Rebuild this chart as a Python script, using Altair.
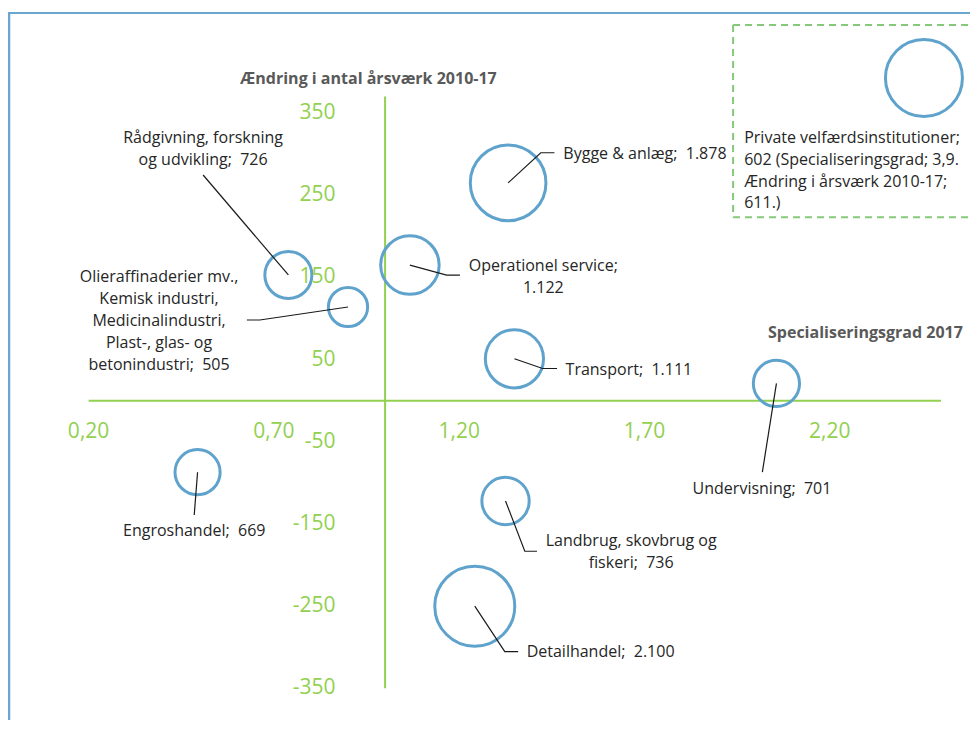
import altair as alt
import pandas as pd

# ---------------- data ----------------
sectors = [
    "Rådgivning, forskning og udvikling",
    "Olieraffinaderier mv., Kemisk industri, Medicinalindustri, Plast-, glas- og betonindustri",
    "Operationel service",
    "Bygge & anlæg",
    "Transport",
    "Undervisning",
    "Engroshandel",
    "Landbrug, skovbrug og fiskeri",
    "Detailhandel",
]
spec_grad = [0.739, 0.900, 1.067, 1.332, 1.349, 2.056, 0.494, 1.325, 1.242]
aendring = [153, 114, 165, 265, 51, 21, -87, -122, -250]
aarsvaerk = [726, 505, 1122, 1878, 1111, 701, 669, 736, 2100]
SP = "\u00a0\u00a0"
label_text = [
    "Rådgivning, forskning\nog udvikling;" + SP + "726",
    "Olieraffinaderier mv.,\nKemisk industri,\nMedicinalindustri,\nPlast-, glas- og\nbetonindustri;" + SP + "505",
    "Operationel service;\n1.122",
    "Bygge & anlæg;" + SP + "1.878",
    "Transport;" + SP + "1.111",
    "Undervisning;" + SP + "701",
    "Engroshandel;" + SP + "669",
    "Landbrug, skovbrug og\nfiskeri;" + SP + "736",
    "Detailhandel;" + SP + "2.100",
]

# annotation anchors (data units, first text line)
label_x = [0.509, 0.390, 1.427, 1.481, 1.487, 2.017, 0.485, 1.664, 1.382]
label_y = [319.3, 150.9, 163.3, 300.5, 37.6, -107.4, -158.5, -170.9, -306.1]
label_align = ["center", "center", "center", "left", "left", "center", "center", "center", "left"]
leader_x = [[0.509], [0.662, 0.627], [1.166, 1.202], [1.420, 1.457], [1.425, 1.464],
            [2.018], [0.485], [1.377, 1.410], [1.323, 1.359]]
leader_y = [[274.6], [98.2, 98.2], [152.9, 152.9], [301.7, 301.7], [39.2, 39.2],
            [-87], [-139.1], [-183.2, -183.2], [-305.3, -305.3]]

# the sector outside the plotted range, shown in the inset box
private_name = "Private velfærdsinstitutioner"
private_spec = 3.9
private_change = 611
private_size = 602
private_text = "Private velfærdsinstitutioner;\n602 (Specialiseringsgrad; 3,9.\nÆndring i årsværk 2010-17;\n611.)"
inset_bubble_x = [2.454]
inset_bubble_y = [392.6]
inset_text_x = [1.969]
inset_text_y = [319.3]
inset_box_left = 1.939
inset_box_top = 457.1
inset_box_bottom = 223.2

x_tick_values = [0.2, 0.7, 1.2, 1.7, 2.2]
x_tick_labels = ["0,20", "0,70", "1,20", "1,70", "2,20"]
y_tick_values = [350, 250, 150, 50, -50, -150, -250, -350]
y_tick_labels = ["350", "250", "150", "50", "-50", "-150", "-250", "-350"]
x_axis_range = [0.2, 2.5]
y_axis_range = [-350, 370]
x_cross = 1.0
x_label_y = -37.7
y_label_x = 0.866

x_title = "Specialiseringsgrad 2017"
y_title = "Ændring i antal årsværk 2010-17"
x_title_pos = (2.559, 82.4)
y_title_pos = (0.955, 391.0)

# ---------------- build ----------------
W, H = 962, 712
xs = alt.Scale(domain=[-0.0175, 2.5783], nice=False, zero=False)
ys = alt.Scale(domain=[-388.5, 477.8], nice=False, zero=False)

GREEN = "#92D050"
BLUE = "#5FA3CD"
TXT = "#262626"
FONT = "Open Sans"
LFS = 16


def X(f, **kw):
    return alt.X(f, type="quantitative", scale=xs, axis=None, **kw)


def Y(f, **kw):
    return alt.Y(f, type="quantitative", scale=ys, axis=None, **kw)


df = pd.DataFrame({
    "sector": sectors, "spec": spec_grad, "chg": aendring, "size": aarsvaerk,
    "label": label_text, "lx": label_x, "ly": label_y, "align": label_align,
})

lead_rows = []
for i, s in enumerate(sectors):
    pts = [(spec_grad[i], aendring[i])] + list(zip(leader_x[i], leader_y[i]))
    for k, (px, py) in enumerate(pts):
        lead_rows.append({"sector": s, "k": k, "x": px, "y": py})
lead = pd.DataFrame(lead_rows)

axes_df = pd.DataFrame({
    "x": [x_axis_range[0], x_cross], "x2": [x_axis_range[1], x_cross],
    "y": [0, y_axis_range[0]], "y2": [0, y_axis_range[1]],
})

xt = pd.DataFrame({"v": x_tick_values, "t": x_tick_labels, "y": [x_label_y] * len(x_tick_values)})
yt = pd.DataFrame({"v": y_tick_values, "t": y_tick_labels, "x": [y_label_x] * len(y_tick_values)})

axis_lines = alt.Chart(axes_df).mark_rule(color=GREEN, strokeWidth=2).encode(
    x=X("x"), x2="x2", y=Y("y"), y2="y2")

bubbles = alt.Chart(df).mark_point(shape="circle", filled=False, strokeWidth=3,
                                   color=BLUE, opacity=1).encode(
    x=X("spec"), y=Y("chg"),
    size=alt.Size("size:Q", scale=alt.Scale(domain=[0, 2100], range=[0, 6400]), legend=None),
)

leaders = alt.Chart(lead).mark_line(color="#1a1a1a", strokeWidth=1.2).encode(
    x=X("x"), y=Y("y"), detail="sector:N", order="k:Q")

lab_c = alt.Chart(df).transform_filter(alt.datum.align == "center").mark_text(
    font=FONT, fontSize=LFS, color=TXT, align="center", baseline="middle",
    lineBreak="\n", lineHeight=22).encode(x=X("lx"), y=Y("ly"), text="label:N")
lab_l = alt.Chart(df).transform_filter(alt.datum.align == "left").mark_text(
    font=FONT, fontSize=LFS, color=TXT, align="left", baseline="middle",
    lineBreak="\n", lineHeight=22).encode(x=X("lx"), y=Y("ly"), text="label:N")

xt_ch = alt.Chart(xt).mark_text(font=FONT, fontSize=21, color=GREEN, align="center",
                                baseline="middle").encode(x=X("v"), y=Y("y"), text="t:N")
yt_ch = alt.Chart(yt).mark_text(font=FONT, fontSize=21, color=GREEN, align="right",
                                baseline="middle").encode(x=X("x"), y=Y("v"), text="t:N")

titles_df = pd.DataFrame({
    "t": [x_title, y_title], "x": [x_title_pos[0], y_title_pos[0]],
    "y": [x_title_pos[1], y_title_pos[1]], "a": ["right", "center"]})
t_x = alt.Chart(titles_df).transform_filter(alt.datum.a == "right").mark_text(
    font=FONT, fontSize=16, fontWeight="bold", color="#595959", align="right",
    baseline="middle").encode(x=X("x"), y=Y("y"), text="t:N")
t_y = alt.Chart(titles_df).transform_filter(alt.datum.a == "center").mark_text(
    font=FONT, fontSize=16, fontWeight="bold", color="#595959", align="center",
    baseline="middle").encode(x=X("x"), y=Y("y"), text="t:N")

inset_df = pd.DataFrame({"bx": inset_bubble_x, "by": inset_bubble_y,
                         "tx": inset_text_x, "ty": inset_text_y, "t": [private_text],
                         "size": [private_size]})
inset_bubble = alt.Chart(inset_df).mark_point(shape="circle", filled=False, strokeWidth=3,
                                              color=BLUE, opacity=1).encode(
    x=X("bx"), y=Y("by"), size=alt.value(5929))
inset_text = alt.Chart(inset_df).mark_text(font=FONT, fontSize=LFS, color=TXT, align="left",
                                           baseline="middle", lineBreak="\n",
                                           lineHeight=21.7).encode(
    x=X("tx"), y=Y("ty"), text="t:N")

box_df = pd.DataFrame({
    "x": [inset_box_left, inset_box_left, inset_box_left],
    "x2": [inset_box_left, 2.7, 2.7],
    "y": [inset_box_top, inset_box_top, inset_box_bottom],
    "y2": [inset_box_bottom, inset_box_top, inset_box_bottom],
})
box = alt.Chart(box_df).mark_rule(color="#86C97A", strokeWidth=2, strokeDash=[7, 5],
                                  clip=True).encode(x=X("x"), x2="x2", y=Y("y"), y2="y2")

frame_top = alt.Chart(pd.DataFrame({"a": [0]})).mark_rule(color="#6AA7D0", strokeWidth=2).encode(
    x=alt.value(0), x2=alt.value(W), y=alt.value(5))
frame_left = alt.Chart(pd.DataFrame({"a": [0]})).mark_rule(color="#6AA7D0", strokeWidth=2.5).encode(
    x=alt.value(1), y=alt.value(5), y2=alt.value(H))

chart = alt.layer(
    frame_top, frame_left, box, axis_lines, bubbles, inset_bubble, leaders,
    yt_ch, xt_ch, lab_c, lab_l, inset_text, t_x, t_y,
).properties(
    width=W, height=H, padding=0, autosize=alt.AutoSizeParams(type="none"),
    background="white",
).configure_view(strokeWidth=0)

chart.save("out.html", embed_options={"renderer": "svg", "actions": False})
